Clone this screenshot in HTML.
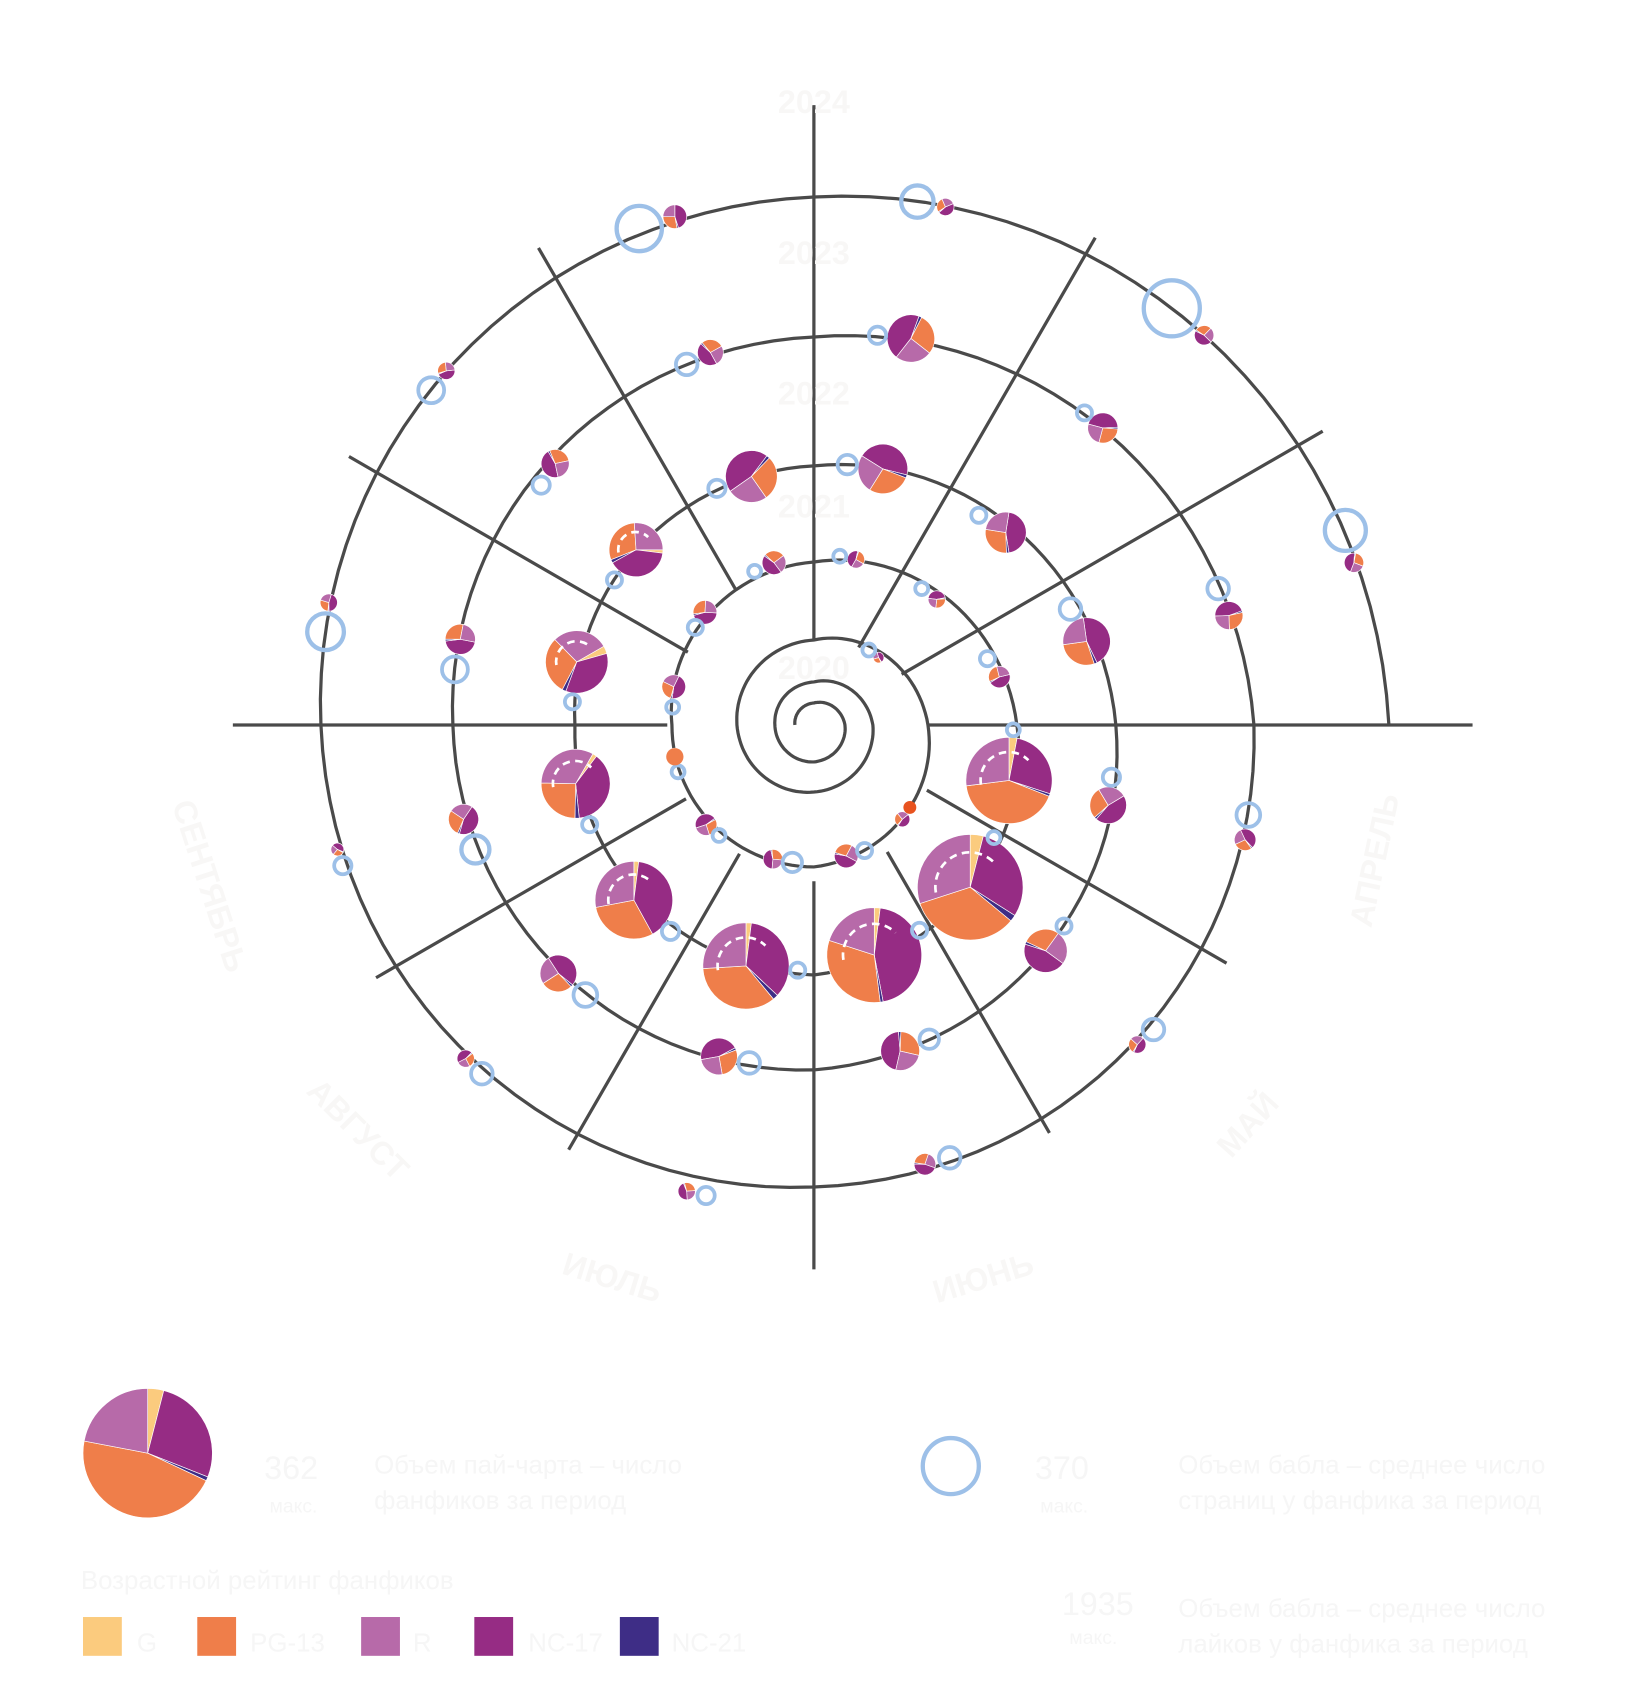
<!DOCTYPE html>
<html><head><meta charset="utf-8"><style>
html,body{margin:0;padding:0;background:#fff;}
svg{display:block;}
text{font-family:"Liberation Sans","DejaVu Sans",sans-serif;}
</style></head><body>
<svg id="s" width="1650" height="1697" viewBox="0 0 1530.6 1574.2" xmlns="http://www.w3.org/2000/svg">
<g id="lines" stroke="#4a4a4a" stroke-width="3" fill="none"></g>
<g id="marks"></g>
<g fill="#f8f7f6" font-weight="bold" font-size="30" text-anchor="middle">
<text x="755" y="105">2024</text><text x="755" y="245">2023</text><text x="755" y="375">2022</text><text x="755" y="480">2021</text><text x="755" y="630">2020</text>
<text transform="translate(185,825) rotate(72)">СЕНТЯБРЬ</text>
<text transform="translate(325,1055) rotate(45)">АВГУСТ</text>
<text transform="translate(565,1195) rotate(17)">ИЮЛЬ</text>
<text transform="translate(915,1195) rotate(-17)">ИЮНЬ</text>
<text transform="translate(1165,1050) rotate(-48)">МАЙ</text>
<text transform="translate(1285,800) rotate(-78)">АПРЕЛЬ</text>
</g>
<g fill="#f6f6f6" font-size="24">
<text x="245" y="1372" font-size="30">362</text><text x="250" y="1403" font-size="18">макс.</text>
<text x="347" y="1367">Объем пай-чарта – число</text><text x="347" y="1400">фанфиков за период</text>
<text x="960" y="1372" font-size="30">370</text><text x="965" y="1403" font-size="18">макс.</text>
<text x="1093" y="1367">Объем бабла – среднее число</text><text x="1093" y="1400">страниц у фанфика за период</text>
<text x="985" y="1498" font-size="30">1935</text><text x="992" y="1525" font-size="18">макс.</text>
<text x="1093" y="1500">Объем бабла – среднее число</text><text x="1093" y="1533">лайков у фанфика за период</text>
<text x="75" y="1474">Возрастной рейтинг фанфиков</text>
<text x="127" y="1532">G</text><text x="232" y="1532">PG-13</text><text x="383" y="1532">R</text><text x="490" y="1532">NC-17</text><text x="623" y="1532">NC-21</text>
</g>
<rect x="77" y="1500" width="36" height="36" fill="#fbcb7e"/>
<rect x="183" y="1500" width="36" height="36" fill="#ef7e4a"/>
<rect x="335" y="1500" width="36" height="36" fill="#b76aa9"/>
<rect x="440" y="1500" width="36" height="36" fill="#962c84"/>
<rect x="575" y="1500" width="36" height="36" fill="#3e2d86"/>
<circle cx="882" cy="1360" r="26" fill="none" stroke="#9dc0e8" stroke-width="4"/>
<g id="legpie"></g>
</svg>
<script>
const NS="http://www.w3.org/2000/svg";
const cx=755,cy=672.5;
const R=[17.6,20.4,28.8,34.3,36.2,39.9,54.7,62.2,71.4,78.8,105.8,131.7,131.7,151.2,188.3,231.9,221.7,240.3,280.1,320,334.9,359.9,408.2,428.6,457.3,489.8,533.4];
let d="";
for(let i=0;i<R.length-1;i++){for(let k=0;k<=30;k++){const t=k/30;if(i>0&&k==0)continue;
const a=(180+90*(i+t))*Math.PI/180;const r=R[i]+(R[i+1]-R[i])*t;
d+=(d?"L":"M")+(cx+r*Math.cos(a)).toFixed(1)+","+(cy+r*Math.sin(a)).toFixed(1);}}
const L=document.getElementById("lines");
function el(tag,at,p){const e=document.createElementNS(NS,tag);for(const k in at)e.setAttribute(k,at[k]);(p||L).appendChild(e);return e;}
el("path",{d:d});
const rad=[[-90,78,575],[-60,83,522],[-30,94,545],[0,106,611],[30,121,442],[60,136,437],[90,145,505],[120,138,455],[150,137,469],[180,136,539],[210,135,498],[240,144,511]];
rad.forEach(([a,r1,r2])=>{const t=a*Math.PI/180;el("line",{x1:cx+r1*Math.cos(t),y1:cy+r1*Math.sin(t),x2:cx+r2*Math.cos(t),y2:cy+r2*Math.sin(t)});});
const M=document.getElementById("marks");
const COL=["#fbcb7e","#962c84","#3e2d86","#ef7e4a","#b76aa9"];
function pie(x,y,r,f,rot,g,dash){g=g||M;rot=rot||0;let s=0;const tot=f.reduce((a,b)=>a+b,0);
f.forEach((v,i)=>{if(v<=0)return;const a0=(rot+s/tot*360-90)*Math.PI/180;s+=v;const a1=(rot+s/tot*360-90)*Math.PI/180;
const lg=(a1-a0)>Math.PI?1:0;
el("path",{d:`M${x},${y}L${x+r*Math.cos(a0)},${y+r*Math.sin(a0)}A${r},${r} 0 ${lg} 1 ${x+r*Math.cos(a1)},${y+r*Math.sin(a1)}Z`,fill:COL[i],stroke:"#fff","stroke-width":0.6},g);});
if(dash){el("path",{d:`M${x-r*0.65},${y+r*0.1}A${r*0.65},${r*0.65} 0 0 1 ${x+r*0.45},${y-r*0.47}`,fill:"none",stroke:"#fff","stroke-width":2.5,"stroke-dasharray":"7 5"},g);}}
function bub(x,y,r){el("circle",{cx:x,cy:y,r:r,fill:"none",stroke:"#9dc0e8","stroke-width":r>12?4:3.5},M);}
const DEF=[0,0.45,0.02,0.28,0.25];
const data=[
[593,212,21,626,201,11],[851,187,15,877,192,8],[1087,286,26,1117,311,9],[1248,492,19,1256,522,9],[1130,546,10,1140,571,13],
[1158,756,11,1155,779,10],[1070,955,10,1055,969,8],[881,1074,10,858,1080,10],[655,1109,8,637,1105,8],[447,996,10,432,982,8],
[318,803,8,313,788,6],[302,586,17,305,559,8],[400,362,12,414,344,8],
[637,338,10,659,327,12],[814,311,8,845,314,22],[1006,383,7,1023,397,14],[993,565,10,1008,595,22],[1031,721,8,1028,747,17],
[987,859,7,970,882,20],[862,964,9,835,975,18],[695,986,10,667,980,17],[543,923,11,518,903,17],[441,788,13,430,760,14],
[422,621,12,427,593,14],[502,450,8,515,430,13],
[665,453,8,697,442,24],[786,431,9,819,435,23],[908,478,7,933,494,19],[916,611,7,927,628,10],
[700,530,6,718,522,11],[779,516,6,794,519,8],[855,546,6,869,556,8],[806,603,6,815,610,5],[837,760,0,837,760,7],
[802,789,7,785,794,11],[735,800,9,717,797,9],[667,775,6,655,765,10],[629,716,6,626,702,8],[624,656,6,625,637,11],[645,582,7,654,568,11]];
data.forEach((q,i)=>{pie(q[3],q[4],q[5],DEF,(i*67)%360);if(q[2])bub(q[0],q[1],q[2]);});
const big=[
[940,677,6,936,724,40,[0.03,0.27,0.01,0.42,0.27],0],
[922,777,6,900,823,49,[0.04,0.3,0.02,0.34,0.3],0],
[853,863,7,811,886,44,[0.02,0.45,0.01,0.32,0.2],0],
[740,900,7,692,896,40,[0.02,0.35,0.02,0.35,0.26],0],
[622,864,8,588,835,36,[0.02,0.4,0,0.3,0.28],0],
[547,765,7,534,727,32,[0.02,0.38,0.02,0.25,0.33],30],
[531,651,7,535,614,29,[0.04,0.35,0.02,0.3,0.29],60],
[570,538,7,590,510,25,[0.02,0.4,0.02,0.3,0.26],90]];
big.forEach(q=>{pie(q[3],q[4],q[5],q[6],q[7],M,true);bub(q[0],q[1],q[2]);});
el("circle",{cx:844,cy:749,r:6,fill:"#e8531f"},M);
el("circle",{cx:626,cy:702,r:8,fill:"#ef7e4a"},M);
pie(137,1348,60,[0.04,0.27,0.01,0.46,0.22],0,document.getElementById("legpie"));
</script>
</body></html>
